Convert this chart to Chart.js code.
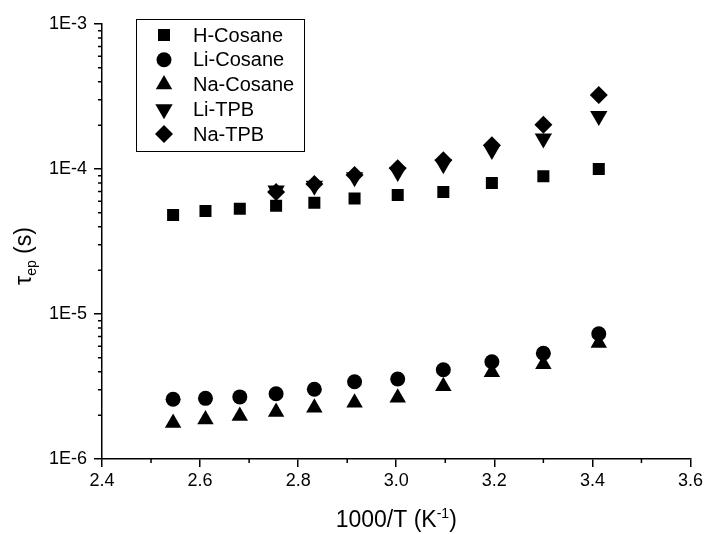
<!DOCTYPE html>
<html>
<head>
<meta charset="utf-8">
<script src="https://cdn.jsdelivr.net/npm/chart.js@4.4.1/dist/chart.umd.min.js"></script>
<style>
  html, body { margin: 0; padding: 0; background: #fff; }
  #wrap { position: relative; width: 706px; height: 534px; }
</style>
</head>
<body>
<div id="wrap"><canvas id="tauChart" width="706" height="534"></canvas></div>
<script>
// 1000/T values (K^-1)
const invT = [2.545, 2.611, 2.681, 2.755, 2.833, 2.915, 3.003, 3.096, 3.195, 3.300, 3.413];
const invTTpb = [2.755, 2.833, 2.915, 3.003, 3.096, 3.195, 3.300, 3.413];

// tau_ep (s)
const hCosane = [4.82e-5, 5.14e-5, 5.31e-5, 5.57e-5, 5.86e-5, 6.25e-5, 6.62e-5, 6.94e-5, 8.00e-5, 8.91e-5, 1.00e-4];
const liCosane = [2.58e-6, 2.62e-6, 2.68e-6, 2.82e-6, 3.03e-6, 3.41e-6, 3.56e-6, 4.13e-6, 4.69e-6, 5.36e-6, 7.31e-6];
const naCosane = [1.77e-6, 1.87e-6, 1.98e-6, 2.11e-6, 2.26e-6, 2.44e-6, 2.64e-6, 3.17e-6, 3.97e-6, 4.51e-6, 6.30e-6];
const liTpb = [7.11e-5, 7.66e-5, 8.77e-5, 9.53e-5, 1.08e-4, 1.35e-4, 1.62e-4, 2.32e-4];
const naTpb = [6.94e-5, 7.88e-5, 9.09e-5, 1.01e-4, 1.15e-4, 1.46e-4, 2.02e-4, 3.24e-4];

const seriesNames = ["H-Cosane", "Li-Cosane", "Na-Cosane", "Li-TPB", "Na-TPB"];

const xMajorTicks = [2.4, 2.6, 2.8, 3.0, 3.2, 3.4, 3.6];
const xTickLabels = ["2.4", "2.6", "2.8", "3.0", "3.2", "3.4", "3.6"];
const xMinorTicks = [2.5, 2.7, 2.9, 3.1, 3.3, 3.5];
const yMajorTicks = [1e-6, 1e-5, 1e-4, 1e-3];
const yTickLabels = ["1E-6", "1E-5", "1E-4", "1E-3"];
const yMinorSteps = [2, 3, 4, 5, 6, 7, 8, 9];

const FONT = '"Liberation Sans", Arial, Helvetica, sans-serif';

function toPoints(xs, ys) {
  return xs.map((x, i) => ({ x, y: ys[i] }));
}

function series(label, xs, ys, style, radius, rotation) {
  return {
    label,
    data: toPoints(xs, ys),
    showLine: false,
    pointStyle: style,
    pointRadius: radius,
    pointHoverRadius: radius,
    pointRotation: rotation || 0,
    backgroundColor: "#000",
    borderColor: "#000",
    borderWidth: 0,
  };
}

function drawMarker(ctx, ds, x, y) {
  const opts = {
    pointStyle: ds.pointStyle,
    radius: ds.pointRadius,
    rotation: ds.pointRotation,
    borderWidth: 0,
  };
  ctx.fillStyle = "#000";
  ctx.strokeStyle = "#000";
  if (window.Chart && Chart.helpers && Chart.helpers.drawPoint) {
    Chart.helpers.drawPoint(ctx, opts, x, y);
  }
}

const minorTicksPlugin = {
  id: "minorTicks",
  afterDraw(chart) {
    const { ctx, scales } = chart;
    const xs = scales.x;
    const ys = scales.y;
    ctx.save();
    ctx.strokeStyle = "#000";
    ctx.lineWidth = 1.5;
    ctx.beginPath();
    xMinorTicks.forEach((v) => {
      const px = xs.getPixelForValue(v);
      ctx.moveTo(px, xs.top);
      ctx.lineTo(px, xs.top + 4);
    });
    yMajorTicks.slice(0, -1).forEach((dec) => {
      yMinorSteps.forEach((m) => {
        const py = ys.getPixelForValue(dec * m);
        ctx.moveTo(ys.right - 4, py);
        ctx.lineTo(ys.right, py);
      });
    });
    ctx.stroke();
    ctx.restore();
  },
};

const boxLegendPlugin = {
  id: "boxLegend",
  afterDraw(chart) {
    const ctx = chart.ctx;
    const left = 136, top = 19, width = 168, height = 132;
    ctx.save();
    ctx.strokeStyle = "#000";
    ctx.lineWidth = 1;
    ctx.strokeRect(left + 0.5, top + 0.5, width, height);
    ctx.font = `20px ${FONT}`;
    ctx.textBaseline = "middle";
    ctx.textAlign = "left";
    chart.data.datasets.forEach((ds, i) => {
      const y = 35 + i * 24.75;
      drawMarker(ctx, ds, 164, y);
      ctx.fillStyle = "#000";
      ctx.fillText(ds.label, 193, y + 1);
    });
    ctx.restore();
  },
};

const axisTitlesPlugin = {
  id: "axisTitles",
  afterDraw(chart) {
    const ctx = chart.ctx;
    const area = chart.chartArea;
    const big = 23, small = 14;
    ctx.save();
    ctx.fillStyle = "#000";
    ctx.textBaseline = "alphabetic";
    ctx.textAlign = "left";

    // x title: 1000/T (K^-1)
    const xa = "1000/T (K", xsup = "-1", xb = ")";
    ctx.font = `${big}px ${FONT}`;
    const wa = ctx.measureText(xa).width;
    const wb = ctx.measureText(xb).width;
    ctx.font = `${small}px ${FONT}`;
    const wsup = ctx.measureText(xsup).width;
    let x0 = (area.left + area.right) / 2 - (wa + wsup + wb) / 2;
    const base = 527;
    ctx.font = `${big}px ${FONT}`;
    ctx.fillText(xa, x0, base);
    ctx.font = `${small}px ${FONT}`;
    ctx.fillText(xsup, x0 + wa, base - 9);
    ctx.font = `${big}px ${FONT}`;
    ctx.fillText(xb, x0 + wa + wsup, base);

    // y title: tau_ep (s)
    const ya = "\u03c4", ysub = "ep", yb = " (s)";
    ctx.font = `${big}px ${FONT}`;
    const ta = ctx.measureText(ya).width;
    const tb = ctx.measureText(yb).width;
    ctx.font = `${small}px ${FONT}`;
    const tsub = ctx.measureText(ysub).width;
    ctx.translate(31, 256);
    ctx.rotate(-Math.PI / 2);
    let y0 = -(ta + tsub + tb) / 2;
    ctx.font = `${big}px ${FONT}`;
    ctx.fillText(ya, y0, 0);
    ctx.font = `${small}px ${FONT}`;
    ctx.fillText(ysub, y0 + ta, 5);
    ctx.font = `${big}px ${FONT}`;
    ctx.fillText(yb, y0 + ta + tsub, 0);
    ctx.restore();
  },
};

const axisBase = {
  grid: {
    display: true,
    drawOnChartArea: false,
    drawTicks: true,
    tickLength: 8,
    color: "#000",
    lineWidth: 1.5,
  },
  border: { display: true, color: "#000", width: 1.5 },
};

new Chart(document.getElementById("tauChart").getContext("2d"), {
  type: "scatter",
  data: {
    datasets: [
      series(seriesNames[0], invT, hCosane, "rect", 8.5),
      series(seriesNames[1], invT, liCosane, "circle", 7.5),
      series(seriesNames[2], invT, naCosane, "triangle", 9.5),
      series(seriesNames[3], invTTpb, liTpb, "triangle", 10, 180),
      series(seriesNames[4], invTTpb, naTpb, "rectRot", 9),
    ],
  },
  options: {
    responsive: false,
    devicePixelRatio: 1,
    animation: false,
    layout: { padding: { top: 24, right: 14, left: 0, bottom: 0 } },
    plugins: {
      legend: { display: false },
      tooltip: { enabled: false },
    },
    scales: {
      x: {
        ...axisBase,
        type: "linear",
        min: 2.4,
        max: 3.6,
        afterBuildTicks: (scale) => {
          scale.ticks = xMajorTicks.map((v) => ({ value: v }));
        },
        afterFit: (scale) => {
          scale.height = 75;
        },
        ticks: {
          color: "#000",
          font: { family: FONT, size: 18 },
          padding: 3,
          maxRotation: 0,
          autoSkip: false,
          callback: (v) => xTickLabels[xMajorTicks.findIndex((t) => Math.abs(t - v) < 1e-9)],
        },
      },
      y: {
        ...axisBase,
        type: "logarithmic",
        min: 1e-6,
        max: 1e-3,
        afterBuildTicks: (scale) => {
          scale.ticks = yMajorTicks.map((v) => ({ value: v }));
        },
        afterFit: (scale) => {
          scale.width = 102;
        },
        ticks: {
          color: "#000",
          font: { family: FONT, size: 18 },
          padding: 7,
          autoSkip: false,
          callback: (v) => yTickLabels[yMajorTicks.findIndex((t) => Math.abs(Math.log10(t) - Math.log10(v)) < 1e-6)],
        },
      },
    },
  },
  plugins: [minorTicksPlugin, boxLegendPlugin, axisTitlesPlugin],
});
</script>
</body>
</html>
